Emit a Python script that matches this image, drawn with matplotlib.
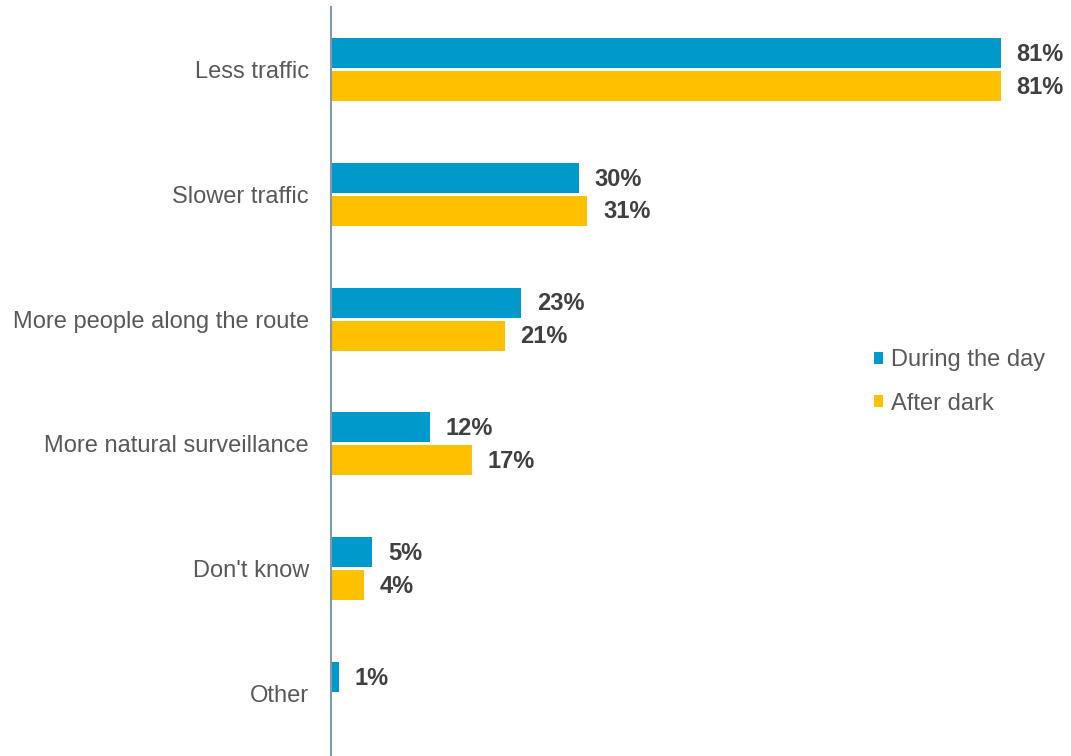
import numpy as np
import matplotlib.pyplot as plt

categories = ['Less traffic', 'Slower traffic', 'More people along the route',
              'More natural surveillance', "Don't know", 'Other']
during_day = [81, 30, 23, 12, 5, 1]
after_dark = [81, 31, 21, 17, 4, 0]

plt.rcParams['font.family'] = ['Liberation Sans', 'DejaVu Sans']

fig = plt.figure(figsize=(10.71, 7.56), dpi=100)
ax = fig.add_axes([331 / 1071, 0, 740 / 1071, 749 / 756])

y = np.arange(len(categories))
h = 0.24
off = 0.132
blue = '#0099CC'
yellow = '#FFC000'

ax.barh(y - off, during_day, height=h, color=blue, label='During the day')
ax.barh(y + off, after_dark, height=h, color=yellow, label='After dark')

# etichette valori
for i in range(len(categories)):
    for val, dy in ((during_day[i], -off), (after_dark[i], off)):
        if val > 0:
            ax.text(val + 1.9, y[i] + dy + 0.01, f'{val}%', va='center', ha='left',
                    fontsize=17, fontweight='bold', color='#404040')

ax.set_xlim(0, 89.5)
ax.set_ylim(len(categories) - 0.5, -0.5)
ax.set_yticks(y)
ax.set_yticklabels(categories, fontsize=17, color='#595959')
ax.tick_params(axis='y', length=0, pad=16)
ax.set_xticks([])

for s in ['top', 'right', 'bottom']:
    ax.spines[s].set_visible(False)
ax.spines['left'].set_color('#8497B0')
ax.spines['left'].set_linewidth(1.5)

leg = fig.legend(loc='upper left', bbox_to_anchor=(853 / 1071, 1 - 328 / 756),
                 frameon=False, fontsize=17, handlelength=0.38, handleheight=0.38,
                 handletextpad=0.35, labelspacing=0.9)
for t in leg.get_texts():
    t.set_color('#595959')

plt.savefig('out.png', dpi=100)
